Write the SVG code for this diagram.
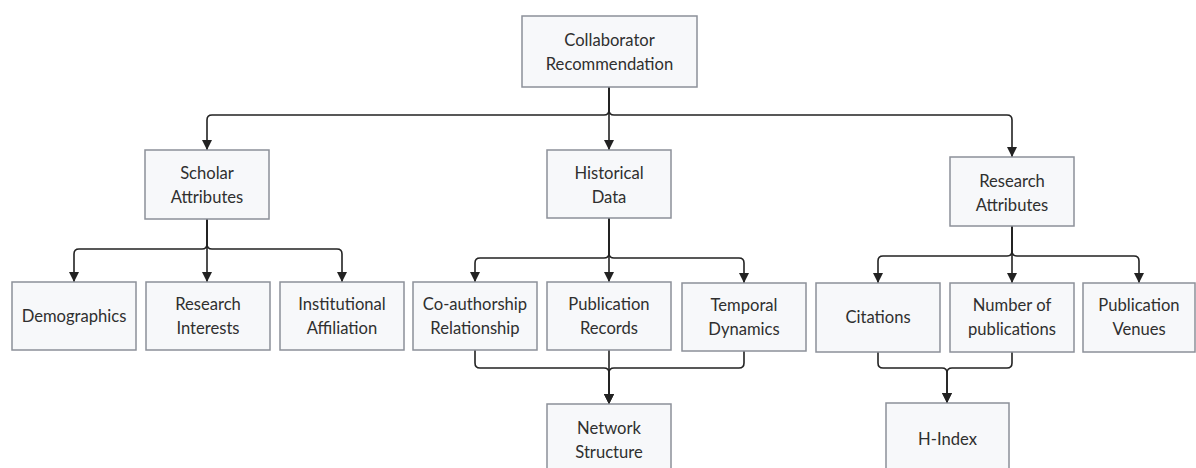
<svg xmlns="http://www.w3.org/2000/svg" width="1196" height="468" viewBox="0 0 1196 468">
<defs>
<marker id="arr" markerUnits="userSpaceOnUse" markerWidth="12" markerHeight="10" refX="10" refY="5" orient="auto">
<path d="M0,0 L10,5 L0,10 Z" fill="#222"/>
</marker>
<style>
.n rect{fill:#f7f8fa;stroke:#8c9099;stroke-width:1.5}
.n text{font-family:Lato,"Noto Sans",sans-serif;font-size:16.6px;fill:#2f2f2f;text-anchor:middle}
.e path{fill:none;stroke:#222;stroke-width:1.6;marker-end:url(#arr)}
</style>
</defs>
<rect width="1196" height="468" fill="#fff"/>
<g class="e" id="connectors">
<path d="M609,87 V150"/>
<path d="M609,87 V110 Q609,115 604,115 H212 Q207,115 207,120 V150"/>
<path d="M609,87 V110 Q609,115 614,115 H1007 Q1012,115 1012,120 V157"/>
<path d="M207,219 V244 Q207,249 202,249 H79 Q74,249 74,254 V282"/>
<path d="M207,219 V282"/>
<path d="M207,219 V244 Q207,249 212,249 H337 Q342,249 342,254 V282"/>
<path d="M609,218 V253 Q609,258 604,258 H480 Q475,258 475,263 V282"/>
<path d="M609,218 V282"/>
<path d="M609,218 V253 Q609,258 614,258 H739 Q744,258 744,263 V283"/>
<path d="M1012,226 V251 Q1012,256 1007,256 H883 Q878,256 878,261 V283"/>
<path d="M1012,226 V283"/>
<path d="M1012,226 V251 Q1012,256 1017,256 H1134 Q1139,256 1139,261 V283"/>
<path d="M475,350 V363 Q475,368 480,368 H604 Q609,368 609,373 V404"/>
<path d="M609,350 V404"/>
<path d="M744,351 V363 Q744,368 739,368 H614 Q609,368 609,373 V404"/>
<path d="M878,352 V363 Q878,368 883,368 H942 Q947,368 947,373 V403"/>
<path d="M1012,352 V363 Q1012,368 1007,368 H952 Q947,368 947,373 V403"/>
</g>
<g class="n" id="root"><rect x="522" y="16" width="175" height="71"/><text x="609.5" y="46">Collaborator</text><text x="609.5" y="70">Recommendation</text></g>
<g class="n" id="scholar"><rect x="145" y="150" width="124" height="69"/><text x="207" y="179">Scholar</text><text x="207" y="203">Attributes</text></g>
<g class="n" id="historical"><rect x="547" y="150" width="124" height="68"/><text x="609" y="179">Historical</text><text x="609" y="203">Data</text></g>
<g class="n" id="research"><rect x="950" y="157" width="124" height="69"/><text x="1012" y="187">Research</text><text x="1012" y="211">Attributes</text></g>
<g class="n" id="demographics"><rect x="12" y="282" width="124" height="68"/><text x="74" y="322">Demographics</text></g>
<g class="n" id="interests"><rect x="146" y="282" width="124" height="68"/><text x="208" y="310">Research</text><text x="208" y="334">Interests</text></g>
<g class="n" id="affiliation"><rect x="280" y="282" width="124" height="68"/><text x="342" y="310">Institutional</text><text x="342" y="334">Affiliation</text></g>
<g class="n" id="coauthor"><rect x="413" y="282" width="124" height="68"/><text x="475" y="310">Co-authorship</text><text x="475" y="334">Relationship</text></g>
<g class="n" id="pubrecords"><rect x="547" y="282" width="124" height="68"/><text x="609" y="310">Publication</text><text x="609" y="334">Records</text></g>
<g class="n" id="temporal"><rect x="682" y="283" width="124" height="68"/><text x="744" y="311">Temporal</text><text x="744" y="335">Dynamics</text></g>
<g class="n" id="citations"><rect x="816" y="283" width="124" height="69"/><text x="878" y="323">Citations</text></g>
<g class="n" id="numpubs"><rect x="950" y="283" width="124" height="69"/><text x="1012" y="311">Number of</text><text x="1012" y="335">publications</text></g>
<g class="n" id="venues"><rect x="1083" y="283" width="112" height="69"/><text x="1139" y="311">Publication</text><text x="1139" y="335">Venues</text></g>
<g class="n" id="network"><rect x="547" y="404" width="124" height="69"/><text x="609" y="434">Network</text><text x="609" y="458">Structure</text></g>
<g class="n" id="hindex"><rect x="886" y="403" width="123" height="69"/><text x="947.5" y="445">H-Index</text></g>
</svg>
